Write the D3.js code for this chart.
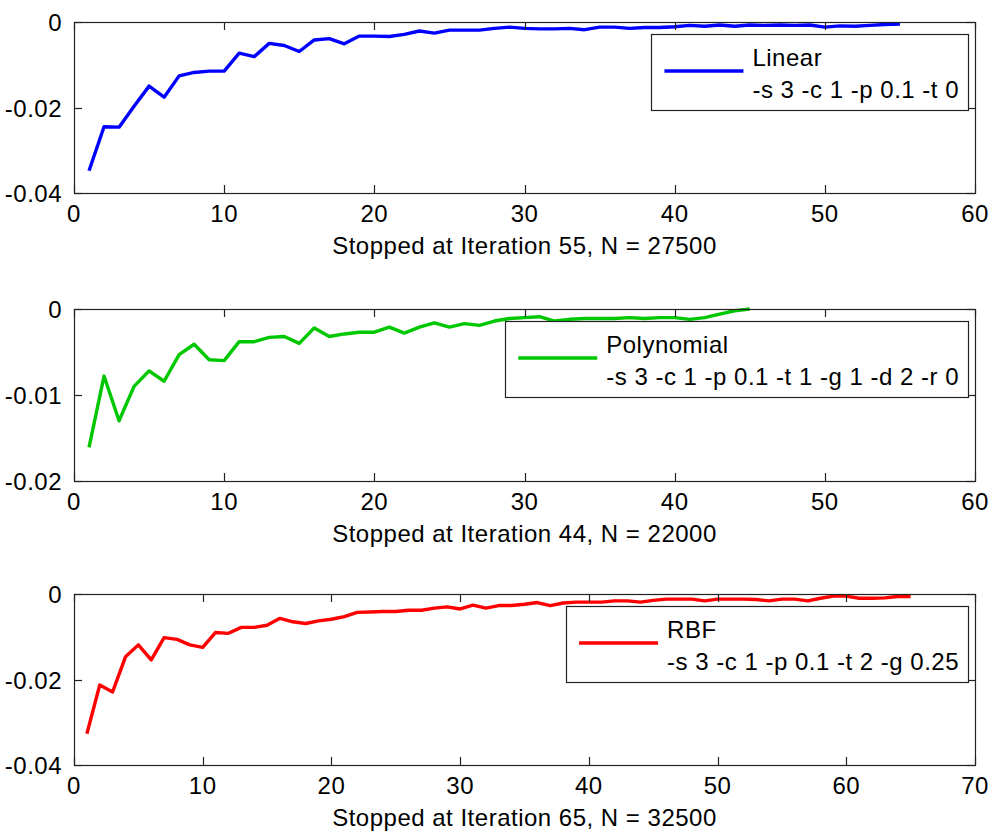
<!DOCTYPE html>
<html>
<head>
<meta charset="utf-8">
<script src="https://cdn.jsdelivr.net/npm/d3@7"></script>
<style>
  body { margin: 0; background: #fff; }
  svg text { font-family: "Liberation Sans", Arial, sans-serif; font-size: 24px; letter-spacing: 0.5px; fill: #000; }
</style>
</head>
<body>
<div class="canvas"></div>
<script>
// series values (iteration 1..n)
const linearLoss = [-0.0348, -0.0245, -0.0246, -0.0197, -0.0150, -0.0176, -0.0126, -0.0118, -0.0115, -0.0115,
  -0.0073, -0.0081, -0.0050, -0.0055, -0.0069, -0.0042, -0.0039, -0.0051, -0.0033, -0.0033,
  -0.0034, -0.0029, -0.0021, -0.0026, -0.0019, -0.0019, -0.0019, -0.0015, -0.0012, -0.0015,
  -0.0016, -0.0016, -0.0015, -0.0018, -0.0012, -0.0012, -0.0015, -0.0013, -0.0013, -0.0011,
  -0.0008, -0.0010, -0.0007, -0.0010, -0.0007, -0.0008, -0.0007, -0.0008, -0.0007, -0.0012,
  -0.0009, -0.0010, -0.0008, -0.0006, -0.0005];

const polyLoss = [-0.0161, -0.0078, -0.0130, -0.0090, -0.0072, -0.0084, -0.0053, -0.0041, -0.0059, -0.0060,
  -0.0038, -0.0038, -0.0033, -0.0032, -0.0040, -0.0022, -0.0032, -0.0029, -0.0027, -0.0027,
  -0.0021, -0.0028, -0.0021, -0.0016, -0.0021, -0.0017, -0.0019, -0.0014, -0.0011, -0.0010,
  -0.0009, -0.0014, -0.0012, -0.0011, -0.0011, -0.0011, -0.0010, -0.0011, -0.0010, -0.0010,
  -0.0012, -0.0010, -0.0006, -0.0002, 0.0000];

const rbfLoss = [-0.0327, -0.0213, -0.0229, -0.0147, -0.0119, -0.0154, -0.0102, -0.0106, -0.0119, -0.0125,
  -0.0090, -0.0092, -0.0078, -0.0078, -0.0073, -0.0057, -0.0065, -0.0069, -0.0063, -0.0059,
  -0.0053, -0.0043, -0.0042, -0.0041, -0.0041, -0.0038, -0.0038, -0.0033, -0.0030, -0.0035,
  -0.0026, -0.0033, -0.0027, -0.0027, -0.0024, -0.0020, -0.0027, -0.0021, -0.0019, -0.0019,
  -0.0019, -0.0016, -0.0016, -0.0019, -0.0015, -0.0012, -0.0012, -0.0012, -0.0016, -0.0012,
  -0.0012, -0.0012, -0.0013, -0.0016, -0.0012, -0.0012, -0.0016, -0.0010, -0.0005, -0.0005,
  -0.0010, -0.0010, -0.0009, -0.0006, -0.0006];

// labels
const kernelNames = ['Linear', 'Polynomial', 'RBF'];
const kernelArgs = ['-s 3 -c 1 -p 0.1 -t 0', '-s 3 -c 1 -p 0.1 -t 1 -g 1 -d 2 -r 0', '-s 3 -c 1 -p 0.1 -t 2 -g 0.25'];
const xTitles = ['Stopped at Iteration 55, N = 27500', 'Stopped at Iteration 44, N = 22000', 'Stopped at Iteration 65, N = 32500'];
const xMax = [60, 60, 70];
const yMin = [-0.04, -0.02, -0.04];
const xTicks = [d3.range(0, 61, 10), d3.range(0, 61, 10), d3.range(0, 71, 10)];
const yTicks = [[-0.04, -0.02, 0], [-0.02, -0.01, 0], [-0.04, -0.02, 0]];
const colours = ['#0000ff', '#00c800', '#ff0000'];
const series = [linearLoss, polyLoss, rbfLoss];

const dims = { width: 994, height: 837, left: 74, right: 975 };
const panels = [{ top: 22, bottom: 193 }, { top: 309, bottom: 481 }, { top: 594, bottom: 765 }];
const tickLen = 8;

const svg = d3.select('.canvas')
  .append('svg')
  .attr('width', dims.width)
  .attr('height', dims.height);

const line = (x, y) => d3.line()
  .x((d, i) => x(i + 1))
  .y(d => y(d));

panels.forEach((p, k) => {
  const x = d3.scaleLinear().domain([0, xMax[k]]).range([dims.left, dims.right]);
  const y = d3.scaleLinear().domain([yMin[k], 0]).range([p.bottom, p.top]);

  const g = svg.append('g');

  // data line (clipped to plot box)
  const clipId = 'clip' + k;
  svg.append('clipPath').attr('id', clipId)
    .append('rect')
    .attr('x', dims.left).attr('y', p.top - 2)
    .attr('width', dims.right - dims.left).attr('height', p.bottom - p.top + 2);

  g.append('path')
    .datum(series[k])
    .attr('clip-path', `url(#${clipId})`)
    .attr('fill', 'none')
    .attr('stroke', colours[k])
    .attr('stroke-width', 3.4)
    .attr('stroke-linejoin', 'round')
    .attr('d', line(x, y));

  // frame
  g.append('rect')
    .attr('x', dims.left + 0.5).attr('y', p.top + 0.5)
    .attr('width', dims.right - dims.left).attr('height', p.bottom - p.top)
    .attr('fill', 'none').attr('stroke', '#222').attr('stroke-width', 1.2);

  // inward ticks on all four sides
  const ticks = g.append('g').attr('stroke', '#222').attr('stroke-width', 1.2);
  xTicks[k].forEach(t => {
    const px = Math.round(x(t)) + 0.5;
    ticks.append('line').attr('x1', px).attr('x2', px).attr('y1', p.bottom).attr('y2', p.bottom - tickLen);
    ticks.append('line').attr('x1', px).attr('x2', px).attr('y1', p.top).attr('y2', p.top + tickLen);
  });
  yTicks[k].forEach(t => {
    const py = Math.round(y(t)) + 0.5;
    ticks.append('line').attr('x1', dims.left).attr('x2', dims.left + tickLen).attr('y1', py).attr('y2', py);
    ticks.append('line').attr('x1', dims.right).attr('x2', dims.right - tickLen).attr('y1', py).attr('y2', py);
  });

  // tick labels
  g.selectAll('.xlab')
    .data(xTicks[k])
    .enter().append('text')
    .attr('x', d => x(d))
    .attr('y', p.bottom + 29)
    .attr('text-anchor', 'middle')
    .text(d => d);

  g.selectAll('.ylab')
    .data(yTicks[k])
    .enter().append('text')
    .attr('x', dims.left - 12)
    .attr('y', d => y(d) + 9)
    .attr('text-anchor', 'end')
    .text(d => d === 0 ? '0' : d3.format('.2f')(d).replace('−', '-'));

  // x title
  g.append('text')
    .attr('x', (dims.left + dims.right) / 2)
    .attr('y', p.bottom + 61)
    .attr('text-anchor', 'middle')
    .text(xTitles[k]);

  // legend
  const leg = g.append('g');
  const t1 = leg.append('text').text(kernelNames[k]);
  const t2 = leg.append('text').text(kernelArgs[k]);
  const textW = Math.max(t1.node().getComputedTextLength(), t2.node().getComputedTextLength());
  const boxW = 101 + textW + 9;
  const boxR = dims.right - 7;
  const boxL = boxR - boxW;
  const boxT = p.top + 12;
  leg.insert('rect', 'text')
    .attr('x', Math.round(boxL) + 0.5).attr('y', boxT + 0.5)
    .attr('width', Math.round(boxW)).attr('height', 76)
    .attr('fill', '#fff').attr('stroke', '#222').attr('stroke-width', 1.2);
  leg.append('line')
    .attr('x1', boxL + 13).attr('x2', boxL + 92)
    .attr('y1', boxT + 37).attr('y2', boxT + 37)
    .attr('stroke', colours[k]).attr('stroke-width', 3.6);
  t1.attr('x', boxL + 101).attr('y', boxT + 32);
  t2.attr('x', boxL + 101).attr('y', boxT + 64);
});
</script>
</body>
</html>
